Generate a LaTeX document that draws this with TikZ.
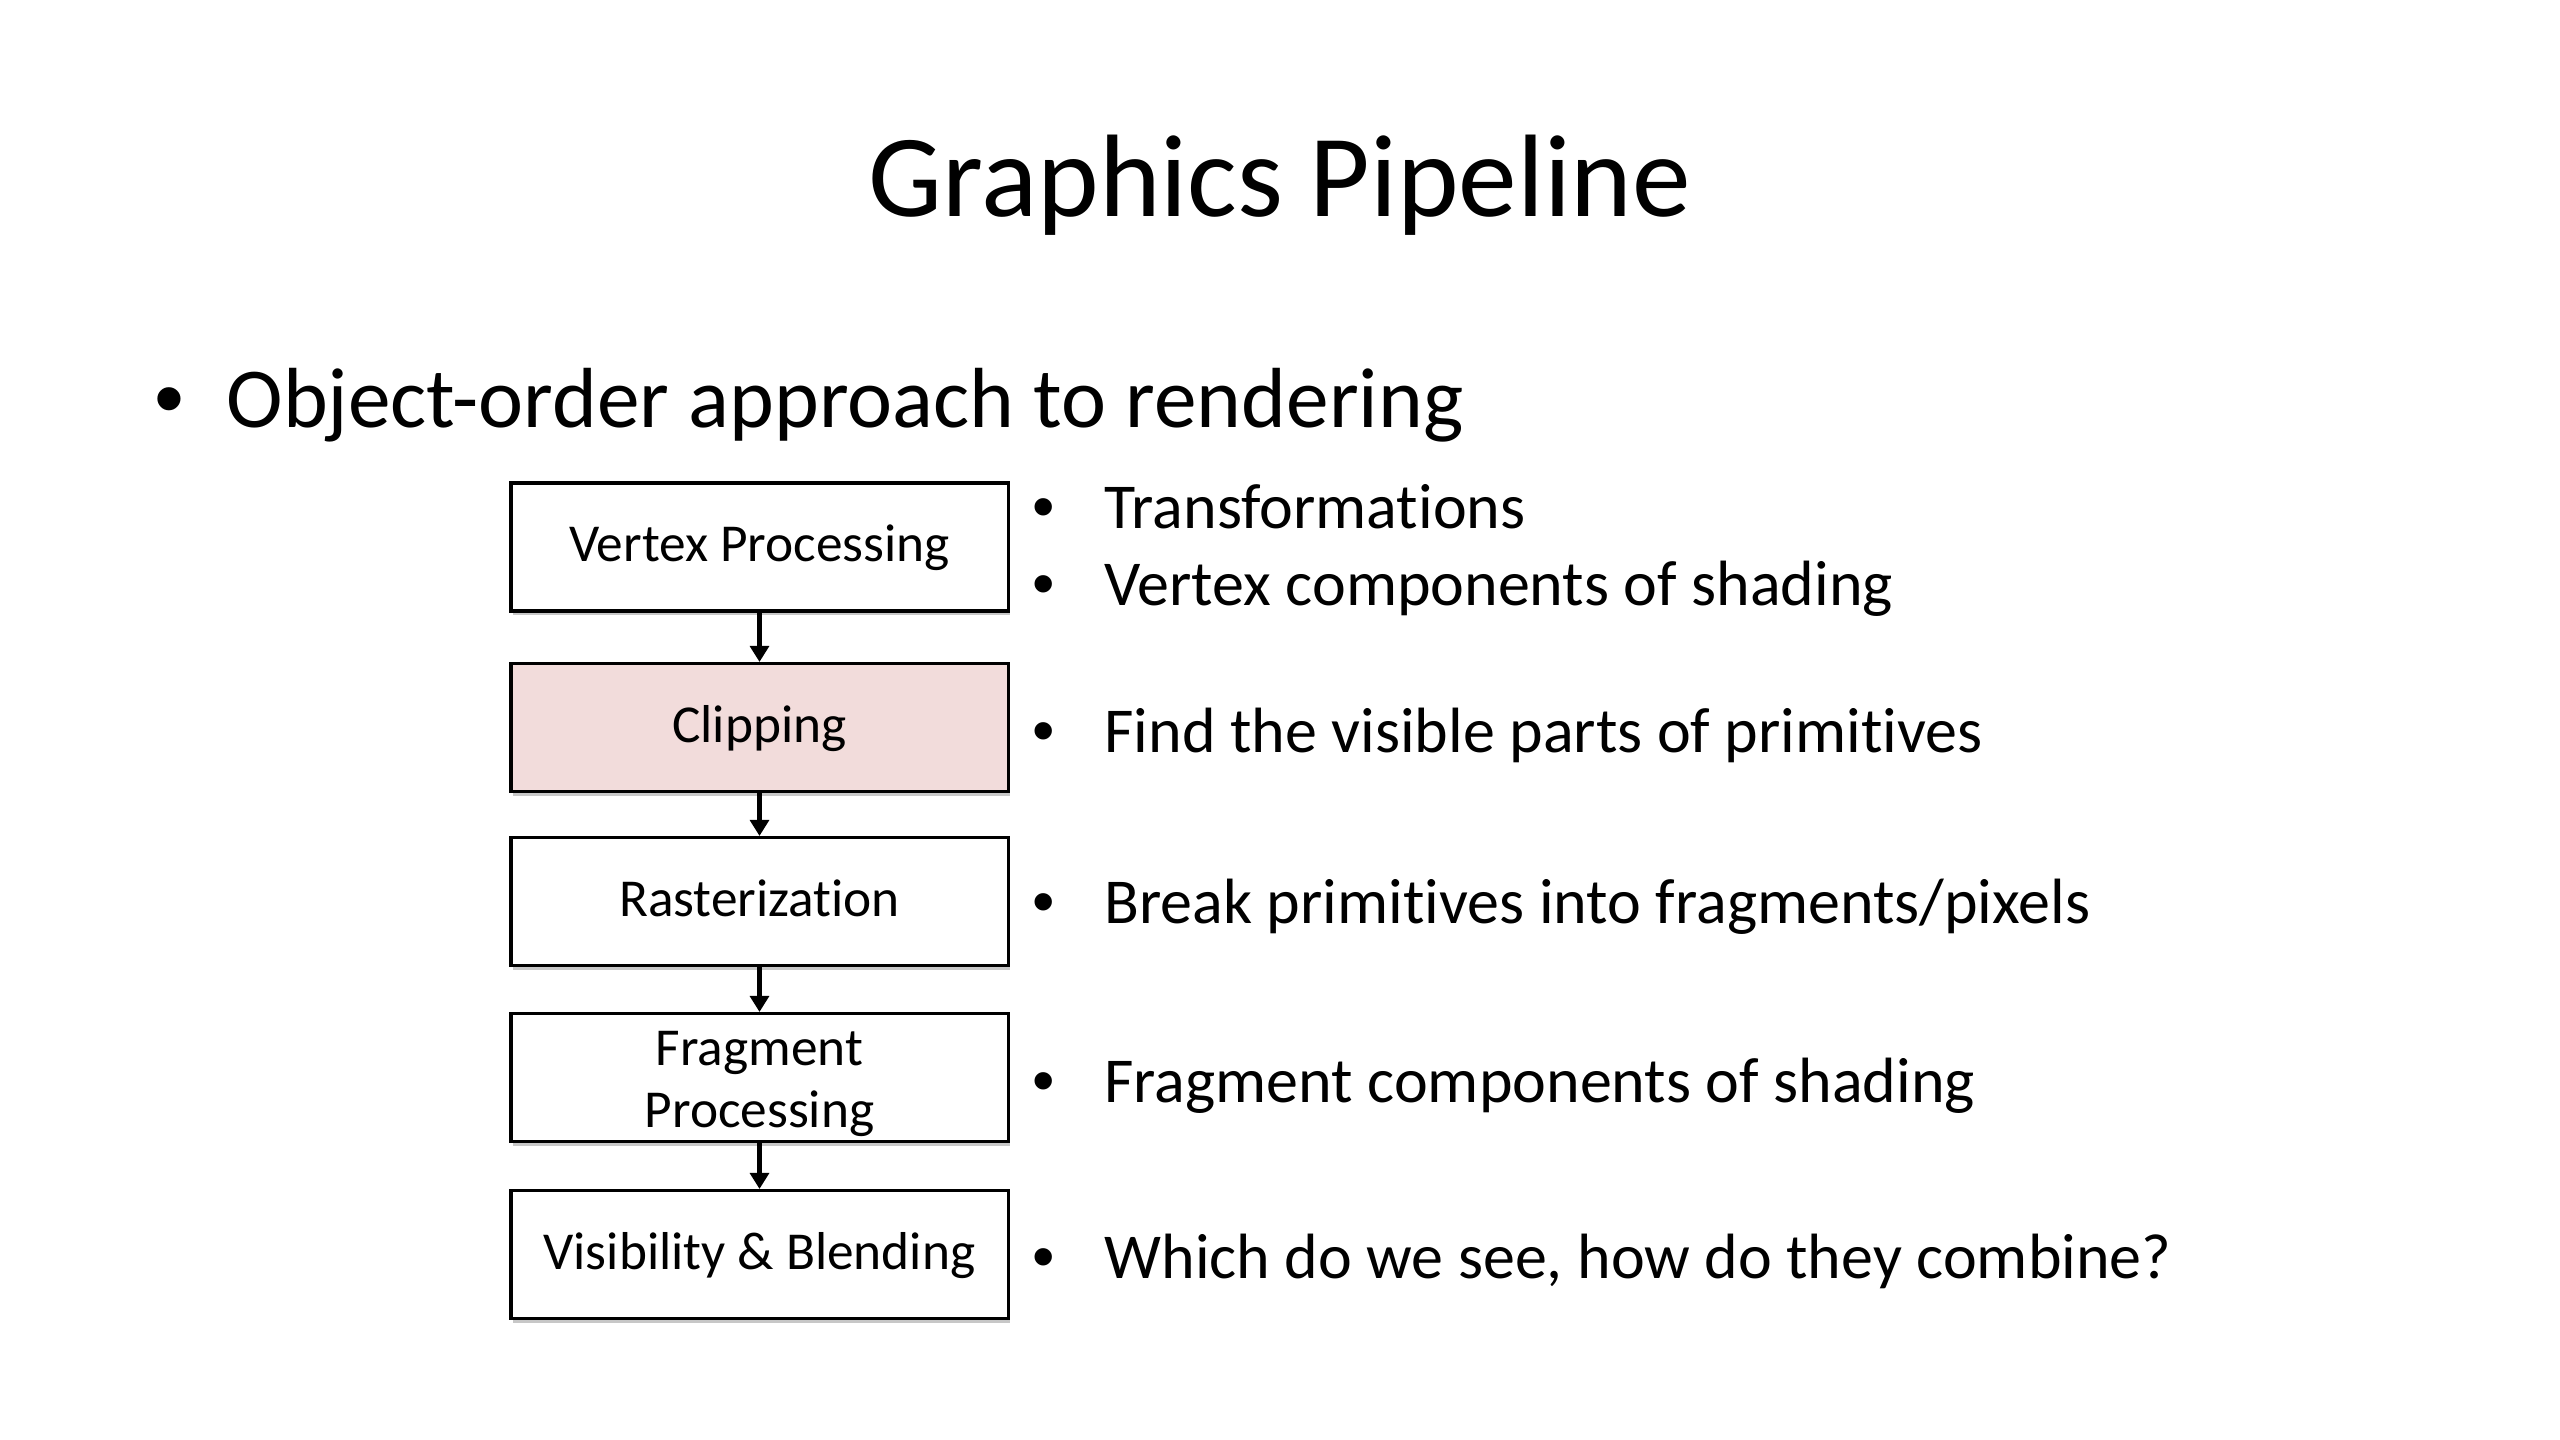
\documentclass[tikz,border=0pt]{standalone}
\usepackage{fontspec}
\setmainfont{Carlito}[RawFeature={-liga,-clig,-dlig}]
\newfontfamily\bulletfont{Liberation Sans}
\usetikzlibrary{arrows.meta,shadows}
\definecolor{clipfill}{HTML}{F2DCDB}
\tikzset{
  px/.style={x=0.375pt,y=-0.375pt},
  titletext/.style={font=\fontsize{44}{52.8}\selectfont, inner sep=0pt, anchor=base},
  maintext/.style={font=\fontsize{32}{38.4}\selectfont, inner sep=0pt, anchor=base west},
  mainbullet/.style={font=\bulletfont\fontsize{32}{38.4}\selectfont, inner sep=0pt, anchor=base},
  subtext/.style={font=\fontsize{24}{28.8}\selectfont, inner sep=0pt, anchor=base west},
  subbullet/.style={font=\bulletfont\fontsize{24}{28.8}\selectfont, inner sep=0pt, anchor=base},
  stagebox/.style={draw=black, line width=1.15pt, fill=white, rectangle,
    minimum width=186.4pt, minimum height=48pt, inner sep=0pt,
    font=\fontsize{20}{23.25}\selectfont, align=center,
    drop shadow={shadow xshift=0.6pt, shadow yshift=-1.6pt, opacity=0.22, fill=black}},
  oneline/.style={text height=14.6pt, text depth=3.36pt},
  stagearrow/.style={line width=1.9pt, -{Triangle[width=7pt,length=6pt]}}
}
\begin{document}
\begin{tikzpicture}[px]
\useasboundingbox (0,0) rectangle (2560,1440);
\fill[white] (0,0) rectangle (2560,1440);
% title
\node[titletext] (title) at (1280,217) {Graphics Pipeline};
% main bullet
\node[mainbullet] (mb) at (169,428) {•};
\node[maintext] (mt) at (226,428) {Object-order approach to rendering};
% boxes
\node[stagebox,oneline] (vp) at (759.5,547) {Vertex Processing};
\node[stagebox,oneline,fill=clipfill] (cl) at (759.5,727.5) {Clipping};
\node[stagebox,oneline] (ra) at (759.5,901.5) {Rasterization};
\node[stagebox] (fp) at (759.5,1077.5) {\rule{0pt}{18pt}Fragment\\Processing};
\node[stagebox,oneline] (vb) at (759.5,1254.5) {Visibility \& Blending};
% arrows
\draw[stagearrow] (vp.south) -- (cl.north);
\draw[stagearrow] (cl.south) -- (ra.north);
\draw[stagearrow] (ra.south) -- (fp.north);
\draw[stagearrow] (fp.south) -- (vb.north);
% sub bullets
\node[subbullet] (b1) at (1044,528) {•};
\node[subtext] (t1) at (1104,528) {Transformations};
\node[subbullet] (b2) at (1044,605) {•};
\node[subtext] (t2) at (1104,605) {Vertex components of shading};
\node[subbullet] (b3) at (1044,752) {•};
\node[subtext] (t3) at (1104,752) {Find the visible parts of primitives};
\node[subbullet] (b4) at (1044,923) {•};
\node[subtext] (t4) at (1104,923) {Break primitives into fragments/pixels};
\node[subbullet] (b5) at (1044,1102) {•};
\node[subtext] (t5) at (1104,1102) {Fragment components of shading};
\node[subbullet] (b6) at (1044,1278) {•};
\node[subtext] (t6) at (1104,1278) {Which do we see, how do they combine?};
\end{tikzpicture}
\end{document}
